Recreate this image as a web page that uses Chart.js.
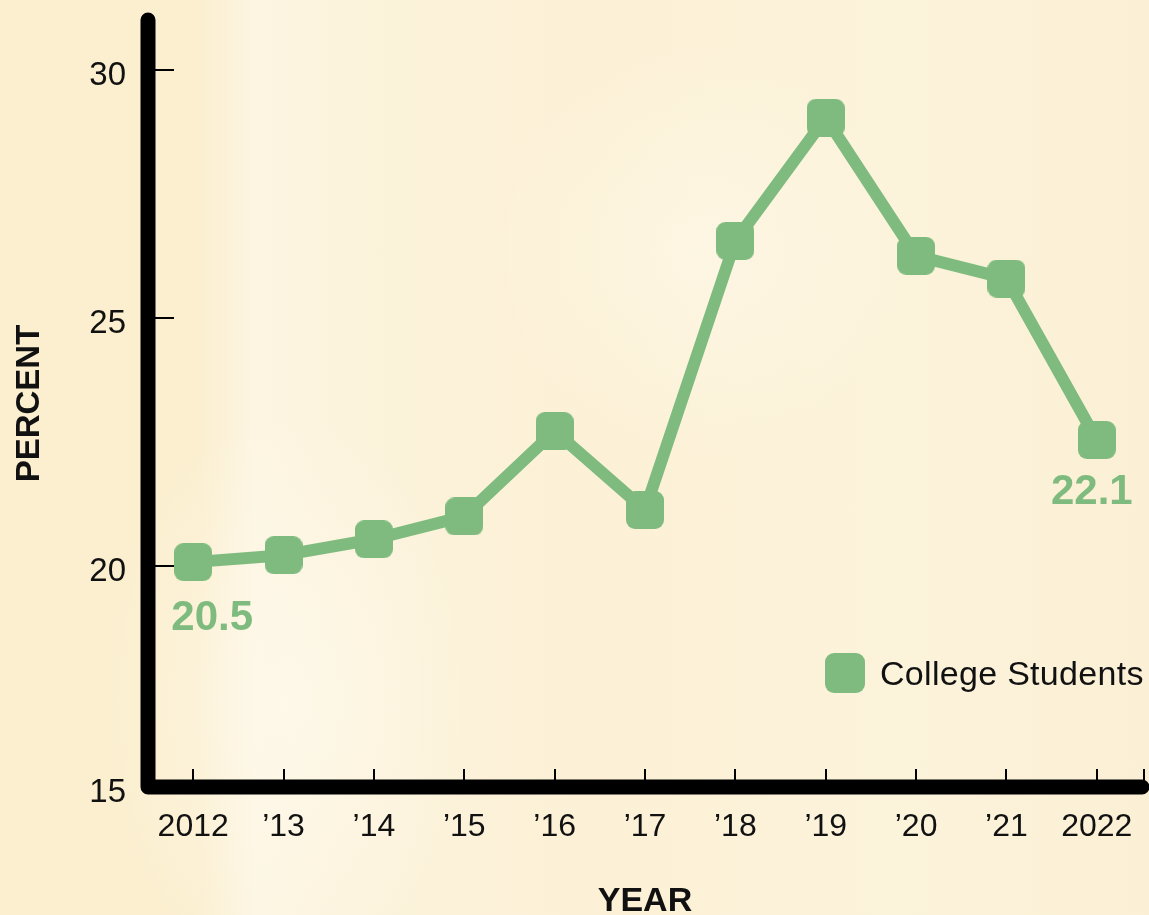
<!DOCTYPE html>
<html><head><meta charset="utf-8">
<script src="https://cdn.jsdelivr.net/npm/chart.js@4"></script>
<style>
html,body{margin:0;padding:0;}
body{width:1149px;height:915px;overflow:hidden;position:relative;
background:
 radial-gradient(ellipse 260px 420px at 290px 700px, rgba(255,251,240,0.6), rgba(255,251,240,0) 70%),
 radial-gradient(ellipse 300px 300px at 700px 250px, rgba(255,250,238,0.5), rgba(255,250,238,0) 70%),
 linear-gradient(90deg, #fbefcf 0px, #fbefd0 200px, #fdf5e2 255px, #fcf3dc 340px, #fcf1d6 600px, #fcf3db 900px, #fbf0d5 1149px);}
#wrap{position:absolute;left:0;top:0;width:1149px;height:915px;}
#legend{position:absolute;left:825px;top:653px;display:flex;align-items:center;font-family:'Liberation Sans',Arial,Helvetica,sans-serif;font-size:34px;letter-spacing:0.3px;color:#111;}
#legend .sw{width:40px;height:40px;border-radius:9px;margin-right:15px;}
</style></head>
<body>
<div id="wrap"><canvas id="c" width="1149" height="915"></canvas></div>
<div id="legend"></div>
<script>
// ---- data ----
const years = ['2012', '\u201913', '\u201914', '\u201915', '\u201916', '\u201917', '\u201918', '\u201919', '\u201920', '\u201921', '2022'];
const collegeStudents = [20.08, 20.22, 20.54, 21.0, 22.72, 21.13, 26.55, 29.03, 26.25, 25.79, 22.54];
const seriesName = 'College Students';
const yTickValues = [20, 25, 30];
const yAxisMin = 15.55;
const yAxisMax = 31.0;
const bottomTickLabel = '15';
const pointLabelIndex = [0, 10];
const pointLabelText = ['20.5', '22.1'];

// ---- style ----
const GREEN = '#7fbb7e';
const FONT = "'Liberation Sans', Arial, Helvetica, sans-serif";

function roundSquare(size, r, color) {
  const cv = document.createElement('canvas');
  cv.width = size; cv.height = size;
  const g = cv.getContext('2d');
  g.fillStyle = color;
  g.beginPath();
  g.roundRect(0, 0, size, size, r);
  g.fill();
  return cv;
}
const marker = roundSquare(38, 9, GREEN);

const axesPlugin = {
  id: 'axesPlugin',
  beforeDatasetsDraw(chart) {
    const {ctx, chartArea: a, scales} = chart;
    ctx.save();
    ctx.strokeStyle = '#000';
    ctx.lineWidth = 2;
    scales.y.ticks.forEach(t => {
      if (t.value === yAxisMin) return;
      const y = Math.round(scales.y.getPixelForValue(t.value));
      ctx.beginPath(); ctx.moveTo(a.left, y); ctx.lineTo(a.left + 26, y); ctx.stroke();
    });
    const xs = years.map((_, i) => scales.x.getPixelForTick(i));
    xs.push(a.right + 2);
    xs.forEach(x => {
      x = Math.round(x);
      ctx.beginPath(); ctx.moveTo(x, a.bottom); ctx.lineTo(x, a.bottom - 18); ctx.stroke();
    });
    ctx.lineWidth = 15;
    ctx.lineCap = 'round';
    ctx.lineJoin = 'round';
    ctx.beginPath();
    ctx.moveTo(a.left, a.top);
    ctx.lineTo(a.left, a.bottom);
    ctx.lineTo(a.right, a.bottom);
    ctx.stroke();
    ctx.restore();
  },
  afterDatasetsDraw(chart) {
    const {ctx} = chart;
    const meta = chart.getDatasetMeta(0);
    const offs = [[19, 56], [-5, 52]];
    ctx.save();
    ctx.fillStyle = GREEN;
    ctx.font = 'bold 42px ' + FONT;
    ctx.textAlign = 'center';
    ctx.textBaseline = 'middle';
    pointLabelIndex.forEach((idx, k) => {
      const el = meta.data[idx];
      ctx.fillText(pointLabelText[k], el.x + offs[k][0], el.y + offs[k][1]);
    });
    ctx.restore();
  }
};

const chart = new Chart(document.getElementById('c'), {
  type: 'line',
  data: {
    labels: years,
    datasets: [{
      label: seriesName,
      data: collegeStudents,
      borderColor: GREEN,
      backgroundColor: GREEN,
      borderWidth: 12,
      borderJoinStyle: 'round',
      tension: 0,
      pointStyle: marker,
      pointRadius: 1,
      pointHoverRadius: 1,
      pointBorderWidth: 0,
      clip: false
    }]
  },
  options: {
    responsive: false,
    animation: false,
    events: [],
    layout: {padding: {top: 20, right: 7, left: 0, bottom: 0}},
    plugins: {legend: {display: false}, tooltip: {enabled: false}},
    scales: {
      x: {
        type: 'category',
        offset: true,
        grid: {display: false, drawTicks: false},
        border: {display: false},
        ticks: {color: '#111', font: {family: FONT, size: 32}, padding: 21, maxRotation: 0, autoSkip: false},
        title: {display: true, text: 'YEAR', color: '#111', font: {family: FONT, size: 34, weight: 'bold'}, padding: {top: 0, bottom: -7}},
        afterFit(s) { s.height = 128; s.paddingLeft = 0; s.paddingRight = 0; }
      },
      y: {
        min: yAxisMin,
        max: yAxisMax,
        grid: {display: false, drawTicks: false},
        border: {display: false},
        afterBuildTicks(s) { s.ticks = [yAxisMin].concat(yTickValues).map(v => ({value: v})); },
        ticks: {
          color: '#111', font: {family: FONT, size: 33}, padding: 22, labelOffset: 6,
          callback: v => (v === yAxisMin ? bottomTickLabel : String(v))
        },
        title: {display: true, text: 'PERCENT', color: '#111', font: {family: FONT, size: 33, weight: 'bold'}, padding: {top: 10, bottom: 0}},
        afterFit(s) { s.width = 148; s.paddingTop = 0; s.paddingBottom = 0; }
      }
    }
  },
  plugins: [axesPlugin]
});

const legendEl = document.getElementById('legend');
Chart.defaults.plugins.legend.labels.generateLabels(chart).forEach(item => {
  const sw = document.createElement('span');
  sw.className = 'sw';
  sw.style.background = item.fillStyle;
  const tx = document.createElement('span');
  tx.textContent = item.text;
  legendEl.appendChild(sw);
  legendEl.appendChild(tx);
});
</script>
</body></html>
